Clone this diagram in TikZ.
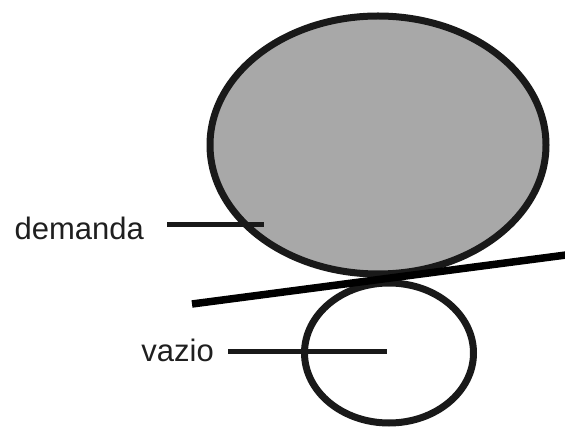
\documentclass[tikz,border=0pt]{standalone}
\usepackage{fontspec}
\setmainfont{Liberation Sans}
\usetikzlibrary{
    positioning,
    shapes.geometric
}

\begin{document}
\begin{tikzpicture}[
    x=1pt, y=-1pt,
    font=\fontsize{31}{37}\selectfont,
    bigblob/.style={
        ellipse, draw=black!90, line width=7pt, fill=black!34,
        minimum width=336pt, minimum height=258pt, inner sep=0pt
    },
    smallblob/.style={
        ellipse, draw=black!90, line width=7pt, fill=white,
        minimum width=169pt, minimum height=140pt, inner sep=0pt
    },
    tagtext/.style={
        anchor=base east, inner sep=0pt, text=black!88
    },
    leader/.style={draw=black!90, line width=5pt},
    tangent/.style={draw=black, line width=7.5pt}
]
\useasboundingbox (0,0) rectangle (565,427);

% Regions: demand above, empty space below
\node[bigblob] (demand) at (378,145) {};
\node[smallblob] (empty) at (389,353) {};

% Line touching both regions
\coordinate (tan_l) at (192,304);
\coordinate (tan_r) at (566,255);
\draw[tangent] (tan_l) -- (tan_r);

% Labels with leader lines
\node[tagtext] (demand_lbl) at (144,240) {demanda};
\node[tagtext] (empty_lbl) at (214,362) {vazio};
\coordinate (demand_from) at (167,225);
\coordinate (demand_pt) at (264,225);
\coordinate (empty_from) at (228,352);
\coordinate (empty_pt) at (387,352);
\draw[leader] (demand_from) -- (demand_pt);
\draw[leader] (empty_from) -- (empty_pt);

\end{tikzpicture}
\end{document}
